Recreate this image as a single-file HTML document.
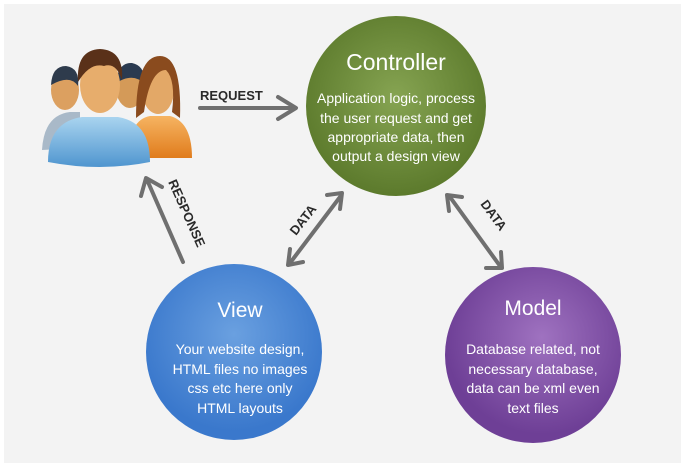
<!DOCTYPE html>
<html><head><style>
body{margin:0;background:#fff;width:689px;height:472px;overflow:hidden}
svg{display:block}
text{font-family:"Liberation Sans",sans-serif}
</style></head><body>
<svg width="689" height="472" viewBox="0 0 689 472">
<defs>
<radialGradient id="g" cx="50%" cy="45%" r="55%"><stop offset="0" stop-color="#86a452"/><stop offset="1" stop-color="#5c7a2c"/></radialGradient>
<radialGradient id="b" cx="50%" cy="40%" r="55%"><stop offset="0" stop-color="#6aa0e0"/><stop offset="1" stop-color="#3a78cc"/></radialGradient>
<radialGradient id="p" cx="55%" cy="40%" r="55%"><stop offset="0" stop-color="#9f72c0"/><stop offset="1" stop-color="#6e3f96"/></radialGradient>
<linearGradient id="shirt" x1="0" y1="0" x2="0" y2="1"><stop offset="0" stop-color="#a9d4ef"/><stop offset="1" stop-color="#4f95cf"/></linearGradient>
<linearGradient id="or" x1="0" y1="0" x2="0" y2="1"><stop offset="0" stop-color="#f6b462"/><stop offset="1" stop-color="#e07c1c"/></linearGradient>
</defs>
<rect x="4" y="4" width="677" height="459" fill="#f3f3f3"/>
<g>
<path d="M42 150 Q44 115 70 112 L80 112 L80 148 Z" fill="#a9b9c8"/>
<ellipse cx="65" cy="90" rx="14" ry="20" fill="#dca060"/>
<path d="M51 85 Q52 66 66 66 Q80 68 78 86 Q70 74 51 85Z" fill="#2e3b4c"/>
<ellipse cx="130" cy="88" rx="14" ry="20" fill="#d49a58"/>
<path d="M116 83 Q118 62 132 63 Q146 66 144 84 Q134 72 116 83Z" fill="#2a3a50"/>
<path d="M130 158 Q128 120 150 116 L170 116 Q192 122 192 158 Z" fill="url(#or)"/>
<ellipse cx="158" cy="90" rx="16" ry="24" fill="#e3a867"/>
<path d="M136 118 Q136 56 160 56 Q182 56 180 118 L172 112 Q176 80 166 70 Q150 70 144 112Z" fill="#8a4b1e"/>
<path d="M48 162 Q48 122 82 117 L118 117 Q150 122 150 162 Q100 172 48 162Z" fill="url(#shirt)"/>
<ellipse cx="100" cy="85" rx="20" ry="28" fill="#e7ad6c"/>
<path d="M78 82 Q76 50 100 49 Q124 50 122 80 Q116 62 104 66 Q90 62 78 82Z" fill="#5a3119"/>
</g>
<g stroke="#6f6f6f" stroke-width="4" fill="none" stroke-linecap="round" stroke-linejoin="round">
<line x1="200" y1="108" x2="294" y2="108"/><polyline points="278,97 296,108 278,119"/>
<line x1="183" y1="262" x2="148" y2="182"/><polyline points="141,196 146,178 162,187"/>
<line x1="290" y1="263" x2="340" y2="197"/><polyline points="327,195 342,193 340,209"/><polyline points="290,249 288,265 303,262"/>
<line x1="450" y1="197" x2="500" y2="266"/><polyline points="449,211 447,195 462,197"/><polyline points="486,268 502,268 501,252"/>
</g>
<g font-size="13" font-weight="bold" fill="#2a2a2a">
<text x="200" y="100">REQUEST</text>
<text transform="translate(168,182) rotate(66)">RESPONSE</text>
<text transform="translate(296,236) rotate(-52)">DATA</text>
<text transform="translate(480,204) rotate(54)">DATA</text>
</g>
<circle cx="396" cy="106" r="90" fill="url(#g)"/>
<circle cx="234" cy="352" r="88" fill="url(#b)"/>
<circle cx="533" cy="355" r="88" fill="url(#p)"/>
<g fill="#fff" text-anchor="middle">
<text x="396" y="70" font-size="23">Controller</text>
<g font-size="14"><text x="396" y="103">Application logic, process</text><text x="396" y="123">the user request and get</text><text x="396" y="142">appropriate data, then</text><text x="396" y="161">output a design view</text></g>
<text x="240" y="317" font-size="21">View</text>
<g font-size="14"><text x="240" y="354">Your website design,</text><text x="240" y="374">HTML files no images</text><text x="240" y="393">css etc here only</text><text x="240" y="413">HTML layouts</text></g>
<text x="533" y="315" font-size="21">Model</text>
<g font-size="14"><text x="533" y="354">Database related, not</text><text x="533" y="374">necessary database,</text><text x="533" y="393">data can be xml even</text><text x="533" y="413">text files</text></g>
</g>
</svg>
</body></html>
